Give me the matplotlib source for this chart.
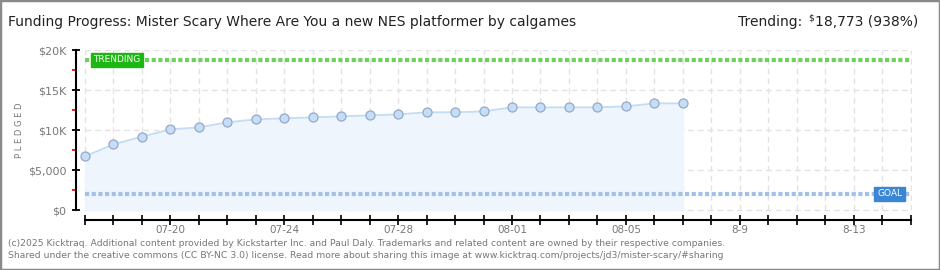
import matplotlib.pyplot as plt
from matplotlib.patches import Rectangle

# pledged totals by day, starting 07-17
days = list(range(22))
pledged = [6710, 8210, 9170, 10080, 10330, 10960, 11330, 11460, 11580, 11710, 11830,
           11960, 12210, 12210, 12330, 12830, 12830, 12830, 12830, 12960, 13330, 13330]
tick_days = [3, 7, 11, 15, 19, 23, 27]
tick_labels = ["07-20", "07-24", "07-28", "08-01", "08-05", "8-9", "8-13"]
y_ticks = [0, 5000, 10000, 15000, 20000]
y_labels = ["$0", "$5,000", "$10K", "$15K", "$20K"]
trend = 18773
goal = 2000
n_days = 30

W, H = 940, 270
fig = plt.figure(figsize=(W / 100, H / 100), dpi=100)
fig.patches.append(Rectangle((0, 0), 1, 1, transform=fig.transFigure, fill=False,
                             edgecolor="#8a8a8a", linewidth=2.5))

ax = fig.add_axes([76 / W, 1 - 220 / H, (912 - 76) / W, 170 / H])
ax.set_xlim(-0.316, 29.05)
ax.set_ylim(-1250, 20000)

grid = dict(color="#e2e2e2", linewidth=1, linestyle=(0, (4, 3)), zorder=0)
ax.hlines(y_ticks, 0, n_days - 1, **grid)
ax.vlines(range(n_days), 0, 20000, **grid)

ax.fill_between(days, pledged, 0, color="#eef5fd", zorder=1)
ax.plot(days, pledged, color="#c4dcf4", linewidth=1.3, zorder=2)
ax.plot(days, pledged, "o", markersize=6.5, markerfacecolor="#c6ddf7",
        markeredgecolor="#94a9c6", markeredgewidth=0.9, zorder=3)

ax.hlines(trend, 0, n_days - 1, color="#6fd05e", linewidth=3, linestyle=(0, (1, 0.6)), zorder=2)
ax.hlines(goal, 0, n_days - 1, color="#a3c1e6", linewidth=3, linestyle=(0, (1, 0.6)), zorder=2)

ax.text(0.3, trend, "TRENDING", color="white", fontsize=6.5, va="center", ha="left",
        family="DejaVu Sans", zorder=5,
        bbox=dict(boxstyle="square,pad=0.25", facecolor="#1db713", edgecolor="#1db713"))
ax.text(28.7, goal, "GOAL", color="white", fontsize=6.5, va="center", ha="right",
        family="DejaVu Sans", zorder=5,
        bbox=dict(boxstyle="square,pad=0.3", facecolor="#3b86d4", edgecolor="#3b86d4"))

for side in ("top", "right"):
    ax.spines[side].set_visible(False)
ax.spines["left"].set_bounds(0, 20000)
ax.spines["bottom"].set_bounds(0, n_days - 1)
ax.spines["left"].set_linewidth(1.5)
ax.spines["bottom"].set_linewidth(1.5)

ax.set_yticks(y_ticks)
ax.set_yticklabels(y_labels)
ax.set_yticks([2500, 7500, 12500, 17500], minor=True)
ax.tick_params(axis="y", which="major", direction="inout", length=6, width=1.3,
               labelsize=8, labelcolor="#777777", pad=4)
ax.tick_params(axis="y", which="minor", direction="out", length=3, width=1.2, color="#e00000")

ax.set_xticks(range(n_days))
ax.set_xticklabels([tick_labels[tick_days.index(d)] if d in tick_days else "" for d in range(n_days)])
ax.tick_params(axis="x", direction="inout", length=7, width=1.2, labelsize=7.5,
               labelcolor="#777777", pad=0)

fig.text(20 / W, 1 - 130 / H, "P L E D G E D", rotation=90, fontsize=6, color="#777777",
         ha="center", va="center")

fig.text(8 / W, 1 - 22 / H, "Funding Progress: Mister Scary Where Are You a new NES platformer by calgames",
         fontsize=10, color="#222222", ha="left", va="center")

# trending text, laid out right to left
renderer = fig.canvas.get_renderer()
num = fig.text(918 / W, 1 - 22 / H, "18,773 (938%)", fontsize=10, color="#222222",
               ha="right", va="center")
left = num.get_window_extent(renderer).x0
dollar = fig.text((left - 1) / W, 1 - 18 / H, "$", fontsize=6.5, color="#222222",
                  ha="right", va="center")
left = dollar.get_window_extent(renderer).x0
fig.text((left - 6) / W, 1 - 22 / H, "Trending:", fontsize=10, color="#222222",
         ha="right", va="center")

fig.text(8 / W, 1 - 243 / H,
         "(c)2025 Kicktraq. Additional content provided by Kickstarter Inc. and Paul Daly. "
         "Trademarks and related content are owned by their respective companies.",
         fontsize=6.7, color="#777777", ha="left", va="center")
fig.text(8 / W, 1 - 256 / H,
         "Shared under the creative commons (CC BY-NC 3.0) license. Read more about sharing "
         "this image at www.kicktraq.com/projects/jd3/mister-scary/#sharing",
         fontsize=6.7, color="#777777", ha="left", va="center")

fig.savefig("out.png", dpi=100)
